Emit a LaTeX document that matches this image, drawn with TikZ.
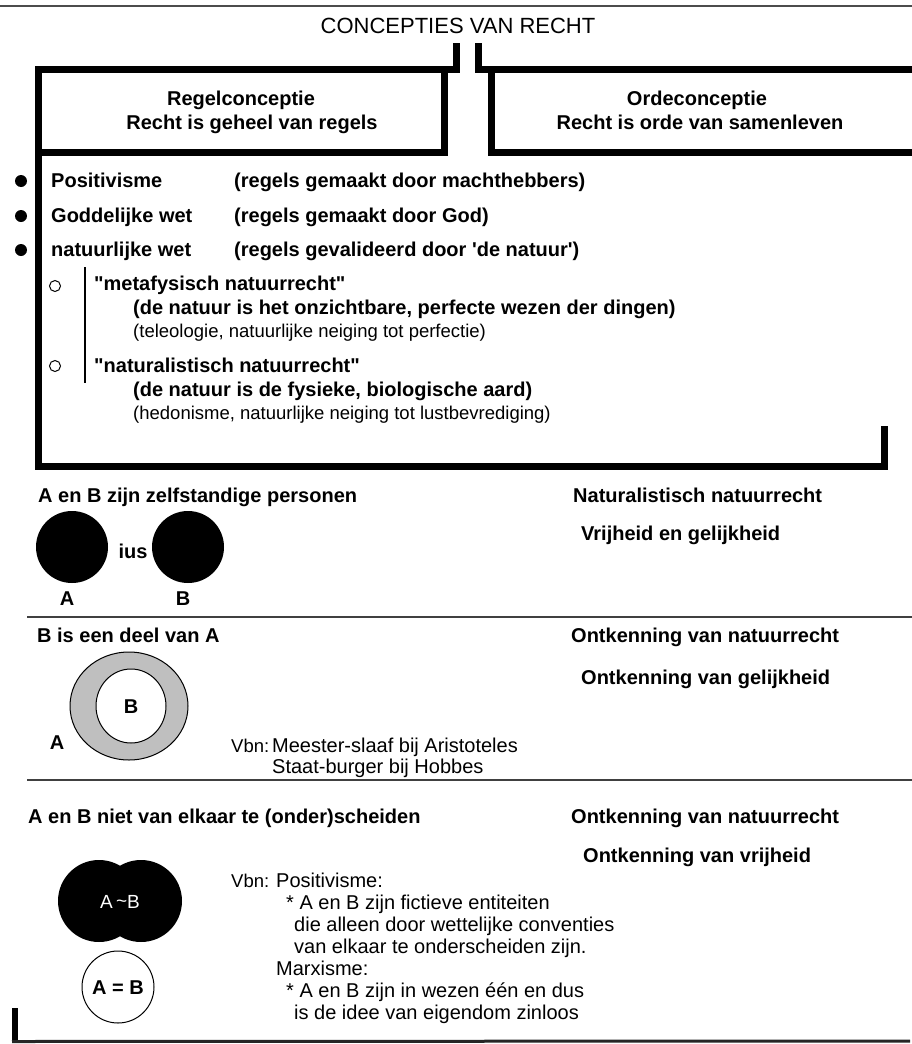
\documentclass[tikz,border=0pt]{standalone}
\usepackage{fontspec}
\setmainfont{Liberation Sans}[Ligatures=TeXOff]
\begin{document}
\begin{tikzpicture}[x=1pt,y=-1pt,
  bf/.style={font=\fontsize{20}{24}\selectfont\bfseries, inner sep=0pt, anchor=base west},
  rg/.style={font=\fontsize{18.5}{22}\selectfont, inner sep=0pt, anchor=base west},
  rgl/.style={font=\fontsize{20}{24}\selectfont, inner sep=0pt, anchor=base west},
  bfc/.style={font=\fontsize{20}{24}\selectfont\bfseries, inner sep=0pt, anchor=base},
  frame/.style={line width=7pt, line join=miter},
  sep/.style={line width=2.5pt, draw=black!75},
  dot/.style={circle, fill=black, inner sep=0pt, minimum size=12pt},
  odot/.style={circle, draw=black, line width=1pt, inner sep=0pt, minimum size=11pt},
  blob/.style={circle, fill=black, inner sep=0pt, minimum size=72pt}]
\useasboundingbox (0,0) rectangle (912,1044);
\fill[white] (0,0) rectangle (912,1044);
% top line
\coordinate (tl) at (0,6); \coordinate (tr) at (912,6);
\draw[line width=2pt, black!70] (tl) -- (tr);
\node[font=\fontsize{22}{26}\selectfont, inner sep=0pt, anchor=base] (title) at (458,33) {CONCEPTIES VAN RECHT};
% frames
\coordinate (s1) at (456,43); \coordinate (s2) at (478,43);
\draw[frame] (s1) -- (456,69) -- (38,69) -- (38,466) -- (884,466) -- (884,426);
\draw[frame] (38,152) -- (444,152) -- (444,69);
\draw[frame] (s2) -- (478,69) -- (916,69);
\draw[frame] (916,152) -- (491,152) -- (491,69);
\node[bfc] (r1) at (241,105) {Regelconceptie};
\node[bfc] (r2) at (252,129) {Recht is geheel van regels};
\node[bfc] (o1) at (697,105) {Ordeconceptie};
\node[bfc] (o2) at (700,129) {Recht is orde van samenleven};
% bullets
\node[dot] (b1) at (21,181) {};
\node[dot] (b2) at (21,216) {};
\node[dot] (b3) at (21,250) {};
\node[bf] (p1) at (51,187) {Positivisme};
\node[bf] (p1b) at (234,187) {(regels gemaakt door machthebbers)};
\node[bf] (p2) at (51,222) {Goddelijke wet};
\node[bf] (p2b) at (234,222) {(regels gemaakt door God)};
\node[bf] (p3) at (51,256) {natuurlijke wet};
\node[bf] (p3b) at (234,256) {(regels gevalideerd door 'de natuur')};
\node[odot] (c1) at (55,286) {};
\node[odot] (c2) at (55,366) {};
\coordinate (v1) at (85,267); \coordinate (v2) at (85,383);
\draw[line width=1.5pt] (v1) -- (v2);
\node[bf] (m1) at (94,290) {"metafysisch natuurrecht"};
\node[bf] (m2) at (133,314) {(de natuur is het onzichtbare, perfecte wezen der dingen)};
\node[rg] (m3) at (133,337) {(teleologie, natuurlijke neiging tot perfectie)};
\node[bf] (n1) at (94,372) {"naturalistisch natuurrecht"};
\node[bf] (n2) at (133,396) {(de natuur is de fysieke, biologische aard)};
\node[rg] (n3) at (133,419) {(hedonisme, natuurlijke neiging tot lustbevrediging)};
% section 1
\node[bf] (h1) at (38,502) {A en B zijn zelfstandige personen};
\node[bf] (h1r) at (573,502) {Naturalistisch natuurrecht};
\node[bf] (h1s) at (581,540) {Vrijheid en gelijkheid};
\node[blob] (ca) at (72,547) {};
\node[blob] (cb) at (188,547) {};
\node[bfc] (ius) at (133,558) {ius};
\node[bfc] (la) at (67,605) {A};
\node[bfc] (lb) at (183,605) {B};
\draw[sep] (27,617) -- (912,617);
% section 2
\node[bf] (h2) at (37,642) {B is een deel van A};
\node[bf] (h2r) at (571,642) {Ontkenning van natuurrecht};
\node[bf] (h2s) at (581,684) {Ontkenning van gelijkheid};
\draw[fill=black!25, line width=1pt] (129,706) ellipse [x radius=59, y radius=54];
\draw[fill=white, line width=1pt] (131,706) ellipse [x radius=35, y radius=37];
\node[bfc] (rb) at (131,713) {B};
\node[bfc] (ra) at (57,749) {A};
\node[rg] (vb0) at (231,752) {Vbn:};
\node[rgl] (vb1) at (272,752) {Meester-slaaf bij Aristoteles};
\node[rgl] (vb2) at (272,773) {Staat-burger bij Hobbes};
\draw[sep] (27,780) -- (912,780);
% section 3
\node[bf] (h3) at (28,823) {A en B niet van elkaar te (onder)scheiden};
\node[bf] (h3r) at (571,823) {Ontkenning van natuurrecht};
\node[bf] (h3s) at (583,862) {Ontkenning van vrijheid};
\node[blob, minimum size=82pt] (ma) at (99,901) {};
\node[blob, minimum size=82pt] (mb) at (141,901) {};
\node[font=\fontsize{19}{23}\selectfont, text=white, inner sep=0pt, anchor=base] (mab) at (120,908) {A\,\raisebox{1pt}{\char`\~}B};
\node[circle, draw, line width=1pt, minimum size=72pt, inner sep=0pt] (eq) at (118,987) {};
\node[bfc] (eqt) at (118,994) {A = B};
\node[rg] (w0) at (231,887) {Vbn:};
\node[rgl] (w1) at (276,887) {Positivisme:};
\node[rgl] (w2) at (286,909) {* A en B zijn fictieve entiteiten};
\node[rgl] (w3) at (294,931) {die alleen door wettelijke conventies};
\node[rgl] (w4) at (294,953) {van elkaar te onderscheiden zijn.};
\node[rgl] (w5) at (276,975) {Marxisme:};
\node[rgl] (w6) at (286,997) {* A en B zijn in wezen één en dus};
\node[rgl] (w7) at (294,1019) {is de idee van eigendom zinloos};
% bottom
\coordinate (bl1) at (15,1008); \coordinate (bl2) at (15,1041); \coordinate (br) at (910,1041);
\draw[line width=6pt] (bl1) -- (15,1043);
\draw[line width=3pt, black!85] (12,1041.5) -- (br);
\end{tikzpicture}
\end{document}
